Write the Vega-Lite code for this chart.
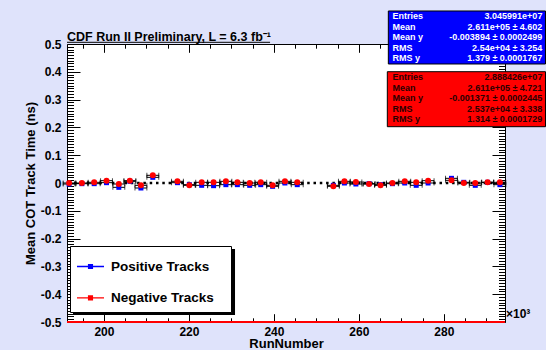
{
  "$schema": "https://vega.github.io/schema/vega-lite/v6.json",
  "width": 438,
  "height": 278,
  "autosize": {"type": "none"},
  "padding": {"left": 67, "top": 44, "right": 41, "bottom": 28},
  "background": "#dfe3fb",
  "view": {"fill": "white", "stroke": "black", "strokeWidth": 1},
  "config": {
    "axis": {"grid": false, "domain": false, "tickColor": "black", "tickWidth": 1, "labelColor": "black", "labelFont": "Liberation Sans", "labelFontWeight": "bold", "labelFontSize": 12, "titleFont": "Liberation Sans", "titleFontWeight": "bold", "titleFontSize": 13, "titleColor": "black", "labelOverlap": false, "labelFlush": false}
  },
  "datasets": {
    "runs": [
      {"run": 191.8, "pos": -0.0036, "neg": 0.0, "xerr": 1.4},
      {"run": 194.8, "pos": -0.0024, "neg": 0.0, "xerr": 1.4},
      {"run": 197.7, "pos": -0.0024, "neg": 0.0024, "xerr": 1.4},
      {"run": 200.6, "pos": 0.0012, "neg": 0.0084, "xerr": 1.4},
      {"run": 203.5, "pos": -0.0156, "neg": -0.0036, "xerr": 1.4},
      {"run": 206.1, "pos": 0.006, "neg": 0.0084, "xerr": 1.4},
      {"run": 208.7, "pos": -0.018, "neg": -0.0084, "xerr": 1.4},
      {"run": 211.5, "pos": 0.0204, "neg": 0.0276, "xerr": 1.4},
      {"run": 217.3, "pos": 0.0012, "neg": 0.006, "xerr": 1.4},
      {"run": 220.1, "pos": -0.006, "neg": -0.0084, "xerr": 1.4},
      {"run": 223.0, "pos": -0.0084, "neg": 0.0024, "xerr": 1.4},
      {"run": 225.8, "pos": -0.0096, "neg": 0.0024, "xerr": 1.4},
      {"run": 228.7, "pos": -0.006, "neg": 0.006, "xerr": 1.4},
      {"run": 231.4, "pos": -0.006, "neg": 0.0024, "xerr": 1.4},
      {"run": 234.3, "pos": -0.0084, "neg": 0.0, "xerr": 1.4},
      {"run": 236.9, "pos": -0.006, "neg": 0.0024, "xerr": 1.4},
      {"run": 239.7, "pos": -0.012, "neg": -0.0084, "xerr": 1.4},
      {"run": 242.6, "pos": 0.0, "neg": 0.006, "xerr": 1.4},
      {"run": 245.5, "pos": -0.006, "neg": 0.0024, "xerr": 1.4},
      {"run": 254.0, "pos": -0.0084, "neg": -0.012, "xerr": 1.4},
      {"run": 256.6, "pos": 0.0, "neg": 0.006, "xerr": 1.4},
      {"run": 259.3, "pos": -0.0036, "neg": 0.0036, "xerr": 1.4},
      {"run": 262.4, "pos": -0.0024, "neg": -0.0036, "xerr": 1.4},
      {"run": 265.1, "pos": -0.006, "neg": -0.0084, "xerr": 1.4},
      {"run": 267.9, "pos": -0.0024, "neg": 0.0, "xerr": 1.4},
      {"run": 270.8, "pos": 0.0, "neg": 0.006, "xerr": 1.4},
      {"run": 273.5, "pos": -0.0084, "neg": 0.0024, "xerr": 1.4},
      {"run": 276.3, "pos": 0.0, "neg": 0.0084, "xerr": 1.4},
      {"run": 281.8, "pos": 0.0168, "neg": 0.0096, "xerr": 1.4},
      {"run": 284.7, "pos": 0.0024, "neg": 0.0, "xerr": 1.4},
      {"run": 287.4, "pos": -0.0084, "neg": 0.0, "xerr": 1.4},
      {"run": 290.3, "pos": 0.0024, "neg": 0.0024, "xerr": 1.4},
      {"run": 293.2, "pos": -0.006, "neg": 0.0024, "xerr": 1.4}
    ],
    "posStats": [
      {"line": 0, "label": "Entries", "value": "3.045991e+07"},
      {"line": 1, "label": "Mean", "value": "2.611e+05 ±  4.602"},
      {"line": 2, "label": "Mean y", "value": "-0.003894 ± 0.0002499"},
      {"line": 3, "label": "RMS", "value": "2.54e+04 ±  3.254"},
      {"line": 4, "label": "RMS y", "value": "1.379 ± 0.0001767"}
    ],
    "negStats": [
      {"line": 0, "label": "Entries", "value": "2.888426e+07"},
      {"line": 1, "label": "Mean", "value": "2.611e+05 ±  4.721"},
      {"line": 2, "label": "Mean y", "value": "-0.001371 ± 0.0002445"},
      {"line": 3, "label": "RMS", "value": "2.537e+04 ±  3.338"},
      {"line": 4, "label": "RMS y", "value": "1.314 ± 0.0001729"}
    ]
  },
  "layer": [
    {
      "data": {"name": "runs"},
      "layer": [
        {
          "data": {"values": [{}]},
          "mark": {"type": "rect", "fill": "black"},
          "encoding": {
            "x": {"datum": 192.71, "type": "quantitative", "axis": null, "scale": {"domain": [191.3, 294.4], "nice": false, "zero": false}},
            "x2": {"datum": 230.85},
            "y": {"datum": -0.2374, "type": "quantitative", "axis": null, "scale": {"domain": [-0.5, 0.5], "nice": false, "zero": false}},
            "y2": {"datum": -0.4748}
          }
        },
        {
          "data": {"values": [{}]},
          "mark": {"type": "rule", "color": "black", "strokeWidth": 2.5, "strokeDash": [2.5, 3.8]},
          "encoding": {"y": {"datum": 0, "type": "quantitative", "axis": null}}
        },
        {
          "mark": {"type": "errorbar", "ticks": {"size": 5}, "color": "black", "thickness": 1},
          "encoding": {
            "x": {"field": "run", "type": "quantitative", "axis": null},
            "xError": {"field": "xerr"},
            "y": {"field": "pos", "type": "quantitative", "axis": null}
          }
        },
        {
          "mark": {"type": "point", "shape": "square", "filled": true, "size": 25, "opacity": 1},
          "encoding": {
            "x": {"field": "run", "type": "quantitative", "scale": {"domain": [191.3, 294.4], "nice": false, "zero": false},
              "axis": {"orient": "bottom", "values": [195, 200, 205, 210, 215, 220, 225, 230, 235, 240, 245, 250, 255, 260, 265, 270, 275, 280, 285, 290],
                "tickSize": {"condition": {"test": "datum.value % 20 == 0", "value": -8.3}, "value": -4.2},
                "labelExpr": "datum.value % 20 == 0 ? toString(datum.value) : ''", "labelPadding": 12.3,
                "title": "RunNumber", "titlePadding": -3.5}},
            "y": {"field": "pos", "type": "quantitative", "scale": {"domain": [-0.5, 0.5], "nice": false, "zero": false},
              "axis": {"orient": "left", "tickCount": 100,
                "tickSize": {"condition": {"test": "round(datum.value*100) % 10 == 0", "value": -13}, "value": -6.5},
                "labelExpr": "round(datum.value*100) % 10 == 0 ? (datum.value == 0 ? '0' : toString(round(datum.value*10)/10)) : ''", "labelPadding": 19,
                "title": "Mean COT Track Time (ns)", "titlePadding": 3}},
            "color": {"datum": "Positive Tracks", "type": "nominal",
              "scale": {"domain": ["Positive Tracks", "Negative Tracks"], "range": ["#0000ff", "#ff0000"]},
              "legend": {"title": null, "orient": "none", "legendX": 3, "legendY": 202, "direction": "vertical",
                "fillColor": "white", "strokeColor": "black", "padding": 7,
                "symbolType": "M-1,-0.05H1V0.05H-1Z M-0.19,-0.19H0.19V0.19H-0.19Z", "symbolSize": 729, "symbolStrokeWidth": 0, "symbolOpacity": 1,
                "labelFont": "Liberation Sans", "labelFontSize": 13.5, "labelFontWeight": "bold", "labelColor": "black", "labelOffset": 7, "rowPadding": 11.4,
                "labelLimit": 300, "labelExpr": "datum.label + '\u2800'"}}
          }
        },
        {
          "mark": {"type": "errorbar", "ticks": {"size": 5}, "color": "black", "thickness": 1},
          "encoding": {
            "x": {"field": "run", "type": "quantitative", "axis": null},
            "xError": {"field": "xerr"},
            "y": {"field": "neg", "type": "quantitative", "axis": null}
          }
        },
        {
          "mark": {"type": "point", "shape": "circle", "filled": true, "size": 36, "opacity": 1},
          "encoding": {
            "x": {"field": "run", "type": "quantitative", "scale": {"domain": [191.3, 294.4], "nice": false, "zero": false},
              "axis": {"orient": "top", "values": [195, 200, 205, 210, 215, 220, 225, 230, 235, 240, 245, 250, 255, 260, 265, 270, 275, 280, 285, 290],
                "tickSize": {"condition": {"test": "datum.value % 20 == 0", "value": -8.3}, "value": -4.2},
                "labels": false, "title": null}},
            "y": {"field": "neg", "type": "quantitative", "scale": {"domain": [-0.5, 0.5], "nice": false, "zero": false},
              "axis": {"orient": "right", "tickCount": 100,
                "tickSize": {"condition": {"test": "round(datum.value*100) % 10 == 0", "value": -13}, "value": -6.5},
                "labels": false, "title": null}},
            "color": {"datum": "Negative Tracks", "type": "nominal"}
          }
        },
        {
          "data": {"values": [{}]},
          "mark": {"type": "rule", "color": "#ff0000", "strokeWidth": 2},
          "encoding": {"y": {"datum": -0.5, "type": "quantitative", "axis": null}}
        },
        {
          "data": {"values": [{}]},
          "mark": {"type": "text", "text": "×10³", "align": "left", "baseline": "alphabetic", "dx": 1, "dy": -4, "font": "Liberation Sans", "fontSize": 12, "fontWeight": "bold", "color": "black"},
          "encoding": {
            "x": {"datum": 294.4, "type": "quantitative", "axis": null},
            "y": {"datum": -0.5, "type": "quantitative", "axis": null}
          }
        },
        {
          "data": {"values": [{"title": "CDF Run II Preliminary, L = 6.3 fb⁻¹"}]},
          "mark": {"type": "text", "align": "left", "baseline": "alphabetic", "dy": -3.5, "font": "Liberation Sans", "fontSize": 12.5, "fontWeight": "bold", "color": "black"},
          "encoding": {
            "x": {"datum": 191.3, "type": "quantitative", "axis": null},
            "y": {"datum": 0.5, "type": "quantitative", "axis": null},
            "text": {"field": "title"}
          }
        },
        {
          "data": {"values": [{}]},
          "mark": {"type": "rule", "color": "black", "strokeWidth": 1},
          "encoding": {
            "x": {"datum": 191.3, "type": "quantitative", "axis": null},
            "x2": {"datum": 239.1},
            "y": {"datum": 0.5061, "type": "quantitative", "axis": null}
          }
        }
      ],
      "resolve": {"axis": {"x": "independent", "y": "independent"}}
    },
    {
      "data": {"name": "posStats"},
      "layer": [
        {
          "data": {"values": [{}]},
          "mark": {"type": "rect", "fill": "#0000ff", "stroke": "black", "strokeWidth": 1},
          "encoding": {
            "x": {"datum": 266.94, "type": "quantitative", "axis": null, "scale": {"domain": [191.3, 294.4], "nice": false, "zero": false}},
            "x2": {"datum": 303.93},
            "y": {"datum": -0.472, "type": "quantitative", "axis": null},
            "y2": {"datum": 4.528}
          }
        },
        {
          "mark": {"type": "text", "align": "left", "font": "Liberation Sans", "fontSize": 9, "fontWeight": "bold", "color": "white"},
          "encoding": {
            "x": {"datum": 267.9, "type": "quantitative", "axis": null},
            "y": {"field": "line", "type": "quantitative", "axis": null, "scale": {"domain": [2.6415, 28.868], "reverse": true, "nice": false, "zero": false}},
            "text": {"field": "label"}
          }
        },
        {
          "mark": {"type": "text", "align": "right", "font": "Liberation Sans", "fontSize": 9, "fontWeight": "bold", "color": "white"},
          "encoding": {
            "x": {"datum": 303.2, "type": "quantitative", "axis": null},
            "y": {"field": "line", "type": "quantitative", "axis": null},
            "text": {"field": "value"}
          }
        }
      ]
    },
    {
      "data": {"name": "negStats"},
      "layer": [
        {
          "data": {"values": [{}]},
          "mark": {"type": "rect", "fill": "#ff0000", "stroke": "black", "strokeWidth": 1},
          "encoding": {
            "x": {"datum": 266.7, "type": "quantitative", "axis": null, "scale": {"domain": [191.3, 294.4], "nice": false, "zero": false}},
            "x2": {"datum": 303.93},
            "y": {"datum": -0.552, "type": "quantitative", "axis": null},
            "y2": {"datum": 4.686}
          }
        },
        {
          "mark": {"type": "text", "align": "left", "font": "Liberation Sans", "fontSize": 9, "fontWeight": "bold", "color": "#2a0000"},
          "encoding": {
            "x": {"datum": 267.9, "type": "quantitative", "axis": null},
            "y": {"field": "line", "type": "quantitative", "axis": null, "scale": {"domain": [-3.19, 23.286], "reverse": true, "nice": false, "zero": false}},
            "text": {"field": "label"}
          }
        },
        {
          "mark": {"type": "text", "align": "right", "font": "Liberation Sans", "fontSize": 9, "fontWeight": "bold", "color": "#2a0000"},
          "encoding": {
            "x": {"datum": 303.2, "type": "quantitative", "axis": null},
            "y": {"field": "line", "type": "quantitative", "axis": null},
            "text": {"field": "value"}
          }
        }
      ]
    }
  ],
  "resolve": {"scale": {"y": "independent"}, "axis": {"x": "independent", "y": "independent"}}
}
